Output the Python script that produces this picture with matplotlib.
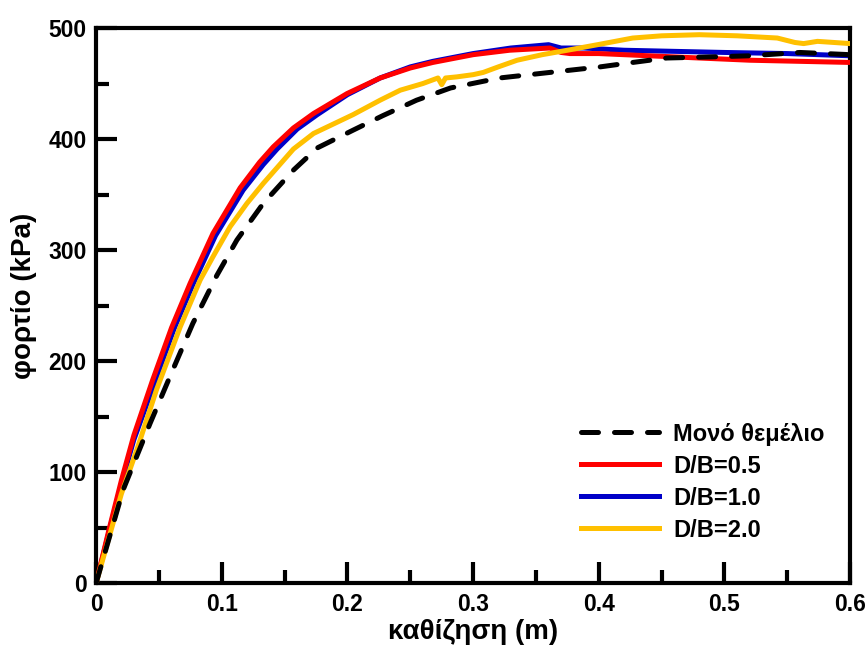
import matplotlib
matplotlib.use("Agg")
import matplotlib.pyplot as plt
from matplotlib.ticker import MultipleLocator, FuncFormatter

plt.rcParams['font.family'] = ['Liberation Sans', 'DejaVu Sans']
plt.rcParams['font.weight'] = 'bold'

# Load-settlement curves (settlement in m, load in kPa)
settle_single = [0, 0.0215, 0.043, 0.061, 0.077, 0.096, 0.112, 0.133, 0.157, 0.176, 0.2045,
                 0.228, 0.255, 0.282, 0.321, 0.361, 0.401, 0.427, 0.454, 0.49, 0.52, 0.56, 0.6]
load_single = [0, 84, 144, 192, 234, 277, 309, 342, 372, 392, 408,
               421, 435, 446, 455, 460, 465, 469, 473, 474, 475, 478, 476]

settle_05 = [0, 0.01, 0.02, 0.03, 0.045, 0.06, 0.0748, 0.093, 0.1146, 0.13, 0.141, 0.157,
             0.173, 0.1997, 0.226, 0.25, 0.268, 0.3, 0.329, 0.361, 0.37, 0.377, 0.4,
             0.44, 0.48, 0.52, 0.56, 0.6]
load_05 = [0, 47, 92, 133, 183, 230, 270, 315, 356, 379, 393, 410,
           423, 441, 455, 464, 469, 476, 480, 482, 478, 477, 477,
           475, 473, 471, 470, 469]

settle_10 = [0, 0.01, 0.02, 0.03, 0.047, 0.062, 0.077, 0.095, 0.117, 0.133, 0.144, 0.16,
             0.176, 0.2, 0.226, 0.25, 0.268, 0.3, 0.33, 0.35, 0.36, 0.37, 0.388,
             0.42, 0.46, 0.5, 0.55, 0.6]
load_10 = [0, 45, 89, 129, 182, 229, 269, 313, 354, 377, 391, 409,
           422, 440, 455, 465, 470, 477, 482, 484, 485, 482, 482,
           480, 479, 478, 477, 475]

settle_20 = [0, 0.01, 0.02, 0.033, 0.048, 0.067, 0.0828, 0.093, 0.1066, 0.12, 0.133, 0.157,
             0.173, 0.2045, 0.226, 0.242, 0.26, 0.272, 0.275, 0.278, 0.287, 0.3, 0.308,
             0.32, 0.335, 0.355, 0.375, 0.399, 0.427, 0.45, 0.48, 0.51, 0.542, 0.556,
             0.563, 0.574, 0.6]
load_20 = [0, 40, 80, 122, 174, 231, 273, 294, 321, 342, 360, 391,
           405, 422, 435, 444, 450, 455, 449, 455, 456, 458, 460,
           465, 471, 476, 480, 485, 491, 493, 494, 493, 491, 487,
           486, 488, 486]

labels = ['Μονό θεμέλιο', 'D/B=0.5', 'D/B=1.0', 'D/B=2.0']
x_ticks = [0, 0.1, 0.2, 0.3, 0.4, 0.5, 0.6]
y_ticks = [0, 100, 200, 300, 400, 500]

fig = plt.figure(figsize=(8.66, 6.52), dpi=100)
ax = fig.add_axes([0.111, 0.1058, 0.8707, 0.8512])

l_single, = ax.plot(settle_single, load_single, color='black', lw=3.6,
                    dashes=(3.4, 3.2), dash_capstyle='round', zorder=5, label=labels[0])
l_05, = ax.plot(settle_05, load_05, color='#ff0000', lw=3.6, zorder=3, label=labels[1])
l_10, = ax.plot(settle_10, load_10, color='#0000c8', lw=3.6, zorder=2, label=labels[2])
l_20, = ax.plot(settle_20, load_20, color='#ffc000', lw=3.6, zorder=4, label=labels[3])

ax.set_xlim(0, 0.6)
ax.set_ylim(0, 500)
ax.set_xticks(x_ticks)
ax.set_yticks(y_ticks)
ax.xaxis.set_minor_locator(MultipleLocator(0.05))
ax.yaxis.set_minor_locator(MultipleLocator(50))
ax.xaxis.set_major_formatter(FuncFormatter(lambda v, p: ('%g' % round(v, 2))))

for s in ax.spines.values():
    s.set_linewidth(3.0)
ax.tick_params(which='both', direction='in', top=False, right=False,
               labelsize=16.5, pad=7)
ax.tick_params(which='major', length=15, width=3.0)
ax.tick_params(which='minor', length=9.5, width=3.0)
for lab in ax.get_xticklabels() + ax.get_yticklabels():
    lab.set_fontweight('bold')

ax.set_xlabel('καθίζηση (m)', fontsize=20, fontweight='bold', labelpad=2)
ax.set_ylabel('φορτίο (kPa)', fontsize=20, fontweight='bold')
ax.yaxis.set_label_coords(-0.079, 0.517)

leg = ax.legend(handles=[l_single, l_05, l_10, l_20], loc='upper left',
                bbox_to_anchor=(0.631, 0.306), frameon=False,
                handlelength=3.3, handletextpad=0.6, labelspacing=0.38,
                borderaxespad=0, prop={'weight': 'bold', 'size': 17})

fig.savefig('out.png', dpi=100)
